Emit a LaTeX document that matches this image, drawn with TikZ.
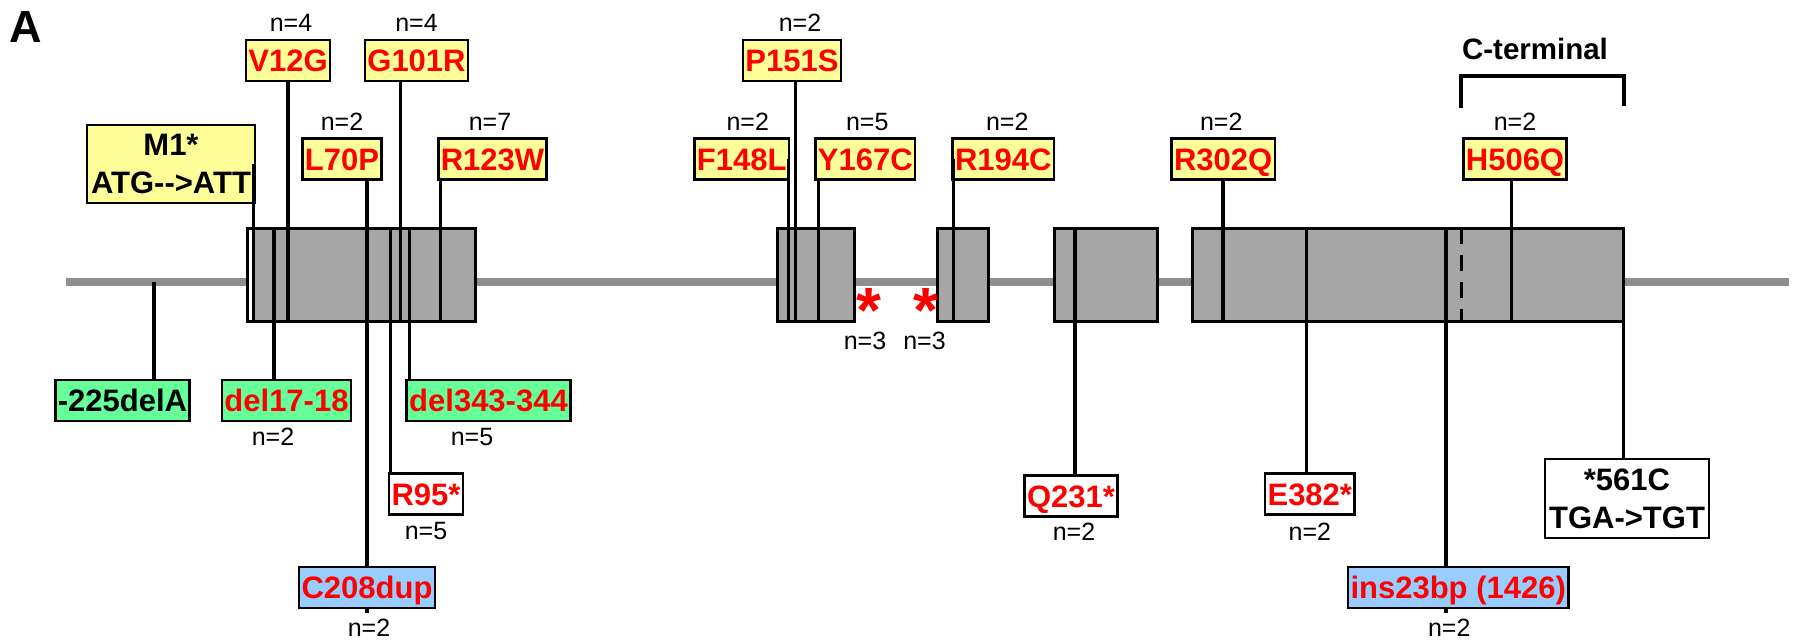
\documentclass[tikz,border=0pt]{standalone}
\usepackage{fontspec}
\setmainfont{Liberation Sans}
\usepackage{tikz}
\usetikzlibrary{positioning,calc}
\definecolor{missfill}{HTML}{FFFF99}
\definecolor{fsfill}{HTML}{66FF99}
\definecolor{insfill}{HTML}{99CCFF}
\definecolor{exonfill}{HTML}{A6A6A6}
\definecolor{introngray}{HTML}{8F8F8F}
\newcommand\mutfont{\fontsize{31}{38}\selectfont\bfseries}
\newcommand\cntfont{\fontsize{25}{29}\selectfont}
\newcommand\splstar{\raisebox{-20pt}[23pt][0pt]{*}}
\tikzset{
  tag/.style    = {draw, line width=2.5pt, font=\mutfont, inner xsep=2.5pt,
                   inner ysep=0pt, outer sep=0pt},
  mut/.style    = {tag, text=red, minimum height=41pt, text height=22pt,
                   text depth=0pt},
  miss/.style   = {mut, fill=missfill},
  fshift/.style = {mut, fill=fsfill},
  dup/.style    = {mut, fill=insfill},
  nons/.style   = {mut, fill=white},
  cnt/.style    = {font=\cntfont, inner sep=0pt},
  exon/.style   = {draw, line width=3pt, fill=exonfill, minimum height=93pt,
                   inner sep=0pt, outer sep=0pt},
  stem/.style   = {line width=3.5pt},
  star/.style   = {font=\fontsize{64}{64}\selectfont\bfseries, text=red,
                   inner sep=0pt, anchor=base},
}

\begin{document}
\begin{tikzpicture}[x=1pt, y=-1pt]
  \useasboundingbox (0,0) rectangle (1800,643);

  % --- gene: backbone and exons ---
  \coordinate (bbL) at (66,282);
  \coordinate (bbR) at (1789,282);
  \draw[introngray, line width=8pt] (bbL) -- (bbR);
  \node[exon, minimum width=228pt]   (ex1) at (361,274.5) {};
  \node[exon, minimum width=77.5pt]  (ex2) at (815.75,274.5) {};
  \node[exon, minimum width=51pt]    (ex3) at (963,274.5) {};
  \node[exon, minimum width=102.4pt] (ex4) at (1105.8,274.5) {};
  \node[exon, minimum width=431.6pt] (ex5) at (1407.8,274.5) {};
  \fill[white] ([xshift=1.5pt,yshift=-1.5pt]ex1.north west)
       rectangle ([xshift=5pt,yshift=1.5pt]ex1.south west);

  \node[font=\fontsize{45}{45}\selectfont\bfseries, inner sep=0pt] (panel) at (26,27) {A};

  % --- C-terminal bracket ---
  \node[font=\fontsize{29.5}{30}\selectfont\bfseries, inner sep=0pt] (cterm) at (1535,49) {C-terminal};
  \coordinate (cL) at (1461,76);
  \coordinate (cR) at (ex5.east |- cL);
  \draw[line width=4pt] ([yshift=-32pt]cL) -- (cL) -- (cR) -- ([yshift=-30pt]cR);

  % --- mutations above the gene ---
  \node[tag, fill=missfill, align=center, minimum width=168pt, minimum height=78pt]
       (m1) at (171,164) {M1*\\ATG-{}-{}>ATT};
  \node[miss] (v12g)  at (288,60.5)    {V12G};
  \node[miss] (g101r) at (416.5,60.5)  {G101R};
  \node[miss] (l70p)  at (342,159)     {L70P};
  \node[miss] (r123w) at (492.5,159)   {R123W};
  \node[miss] (p151s) at (792,60.5)    {P151S};
  \node[miss] (f148l) at (741.75,159)  {F148L};
  \node[miss] (y167c) at (865.25,159)  {Y167C};
  \node[miss] (r194c) at (1003.25,159) {R194C};
  \node[miss] (r302q) at (1223.2,159)  {R302Q};
  \node[miss] (h506q) at (1515,159)    {H506Q};

  \node[cnt, above=8pt of v12g, xshift=3pt]    (cv12g)  {n=4};
  \node[cnt, above=8pt of g101r]               (cg101r) {n=4};
  \node[cnt, above=8pt of l70p]                (cl70p)  {n=2};
  \node[cnt, above=8pt of r123w, xshift=-2.5pt] (cr123w) {n=7};
  \node[cnt, above=8pt of p151s, xshift=8pt]   (cp151s) {n=2};
  \node[cnt, above=8pt of f148l, xshift=6pt]   (cf148l) {n=2};
  \node[cnt, above=8pt of y167c, xshift=2pt]   (cy167c) {n=5};
  \node[cnt, above=8pt of r194c, xshift=4pt]   (cr194c) {n=2};
  \node[cnt, above=8pt of r302q, xshift=-2pt]  (cr302q) {n=2};
  \node[cnt, above=8pt of h506q]               (ch506q) {n=2};

  % --- mutations below the gene ---
  \node[fshift, text=black] (m225) at (122.5,400.5) {-225delA};
  \node[fshift] (del17)  at (286.5,400.5) {del17-18};
  \node[fshift] (del343) at (488.5,400.5) {del343-344};
  \node[nons]   (r95)    at (426,494)     {R95*};
  \node[nons]   (q231)   at (1071,496)    {Q231*};
  \node[nons]   (e382)   at (1309.8,494)  {E382*};
  \node[dup]    (c208)   at (367,587.5)   {C208dup};
  \node[dup]    (ins23)  at (1458.2,587.5) {ins23bp (1426)};
  \node[tag, fill=white, align=center, minimum width=164pt, minimum height=79pt]
       (st561) at (1627,498.5) {*561C\\TGA->TGT};

  \node[cnt, below=7pt of del17, xshift=-13.5pt]  (cdel17)  {n=2};
  \node[cnt, below=7pt of del343, xshift=-16.5pt] (cdel343) {n=5};
  \node[cnt, below=8pt of r95]                    (cr95)    {n=5};
  \node[cnt, below=6pt of q231, xshift=3pt]       (cq231)   {n=2};
  \node[cnt, below=8pt of e382]                   (ce382)   {n=2};
  \node[cnt, below=11pt of c208, xshift=2pt]      (cc208)   {n=2};
  \node[cnt, below=11pt of ins23, xshift=-9pt]    (cins23)  {n=2};

  % splice-site changes
  \node[star] (sp1) at (869,312)   {\splstar};
  \node[star] (sp2) at (925.5,312) {\splstar};
  \node[cnt] (csp1) at (865,341)   {n=3};
  \node[cnt] (csp2) at (924.5,341) {n=3};

  % --- stems ---
  \draw[stem] ([xshift=-1.5pt]m1.east) -- ([xshift=-1.5pt]m1.east |- ex1.south);
  \draw[stem] (v12g.south) -- (v12g.south |- ex1.south);
  \draw[stem] ([xshift=-15.8pt]g101r.south) -- ([xshift=-15.8pt]g101r.south |- ex1.south);
  \draw[stem] (c208.north |- l70p.south) -- (c208.north);
  \draw[stem] (c208.south) -- ++(0,5);
  \draw[stem] ([xshift=2pt]r123w.south west) -- ([xshift=2pt]r123w.south west |- ex1.south);
  \draw[stem] ([xshift=-12.5pt]del17.north) -- ([xshift=-12.5pt]del17.north |- ex1.north);
  \draw[stem] ([xshift=2.7pt]del343.north west) -- ([xshift=2.7pt]del343.north west |- ex1.north);
  \draw[stem] ([xshift=1.5pt]r95.north west) -- ([xshift=1.5pt]r95.north west |- ex1.north);
  \draw[stem] ([xshift=31.5pt]m225.north) -- ([xshift=31.5pt]m225.north |- bbL);
  \draw[stem] ([xshift=-0.5pt]f148l.east) -- ([xshift=-0.5pt]f148l.east |- ex2.south);
  \draw[stem] ([xshift=3.6pt]p151s.south) -- ([xshift=3.6pt]p151s.south |- ex2.south);
  \draw[stem] ([xshift=3pt]y167c.south west) -- ([xshift=3pt]y167c.south west |- ex2.south);
  \draw[stem] ([xshift=1pt]r194c.west) -- ([xshift=1pt]r194c.west |- ex3.south);
  \draw[stem] ([xshift=4pt]q231.north) -- ([xshift=4pt]q231.north |- ex4.north);
  \draw[stem] (r302q.south) -- (r302q.south |- ex5.south);
  \draw[stem] ([xshift=-3.4pt]e382.north) -- ([xshift=-3.4pt]e382.north |- ex5.north);
  \draw[stem] ([xshift=-12.2pt]ins23.north) -- ([xshift=-12.2pt]ins23.north |- ex5.north);
  \draw[stem] ([xshift=-12.2pt]ins23.south) -- ++(0,5);
  \draw[line width=3pt, dash pattern=on 16pt off 11pt] (cL |- ex5.north) -- (cL |- ex5.south);
  \draw[stem] ([xshift=-3.5pt]h506q.south) -- ([xshift=-3.5pt]h506q.south |- ex5.south);
  \draw[stem] (ex5.north east) -- (ex5.north east |- st561.north);
\end{tikzpicture}
\end{document}
